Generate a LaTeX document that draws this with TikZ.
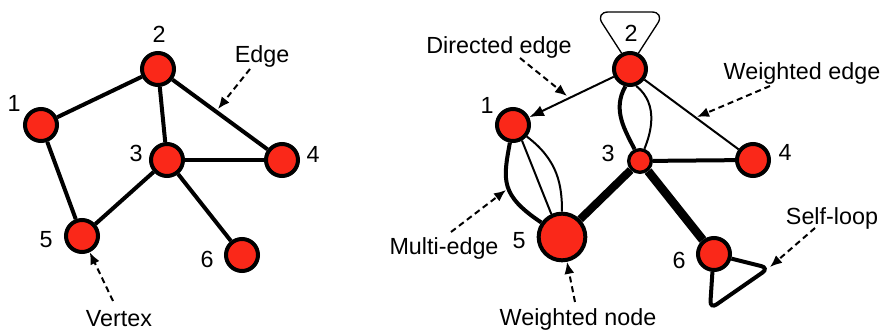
\documentclass[tikz,border=0pt]{standalone}
\usepackage{fontspec}
\setmainfont{Liberation Sans}
\usepackage{tikz}
\usetikzlibrary{arrows.meta}
\definecolor{myred}{RGB}{250, 40, 25}
\tikzset{every picture/.style={line width=0.75pt}}
\tikzset{
  vtx/.style={circle, draw, line width=3pt, fill=myred, minimum size=24pt, inner sep=0pt},
  lbl/.style={inner sep=0pt, font=\fontsize{17.5}{20}\selectfont},
  callout/.style={dash pattern=on 4.5pt off 3pt, line width=1.5pt, -{Latex[length=9pt,width=7.5pt]}},
  thinedge/.style={line width=1.5pt},
  edge/.style={line width=3pt}
}

\begin{document}
\begin{tikzpicture}[x=0.75pt,y=0.75pt,yscale=-1]
\useasboundingbox (0,0) rectangle (883,331);

%%% Left graph
% Vertices
\node [vtx] (a1) at (41,125) {};
\node [vtx] (a2) at (158,69) {};
\node [vtx] (a3) at (167,160) {};
\node [vtx] (a4) at (282,160) {};
\node [vtx] (a5) at (82,236) {};
\node [vtx] (a6) at (242,255) {};
% Edges
\draw [edge] (a1) -- (a2);
\draw [edge] (a1) -- (a5);
\draw [edge] (a2) -- (a3);
\draw [edge] (a2) -- (a4);
\draw [edge] (a3) -- (a4);
\draw [edge] (a3) -- (a5);
\draw [edge] (a3) -- (a6);
% Text Node
\node [lbl] (la1) at (14,103) {1};
\node [lbl] (la2) at (159,34) {2};
\node [lbl] (la3) at (136,153) {3};
\node [lbl] (la4) at (313,154) {4};
\node [lbl] (la5) at (46,240) {5};
\node [lbl] (la6) at (207,259) {6};
\node [lbl] (tedge) at (262,56) {Edge};
\node [lbl] (tvertex) at (119,319) {Vertex};
% Callouts
\coordinate (cedge0) at (250,69);
\coordinate (cedge1) at (218,109);
\coordinate (cvertex0) at (113,301);
\draw [callout] (cedge0) -- (cedge1);
\draw [callout] (cvertex0) -- (a5);

%%% Right graph
% Vertices
\node [vtx] (b1) at (513,125) {};
\node [vtx] (b2) at (630,69) {};
\node [vtx, minimum size=17pt, line width=2.5pt] (b3) at (640,161) {};
\node [vtx] (b4) at (753,160) {};
\node [vtx, minimum size=35pt] (b5) at (562,237) {};
\node [vtx] (b6) at (714,254) {};
% Edges
\draw [thinedge, -{Latex[length=11pt,width=8.5pt]}] (b2) -- (b1);
\draw [thinedge] (b2) -- (b4);
\draw [edge] (b3) -- (b4);
\draw [line width=6pt] (b3) -- (b5);
\draw [line width=6.5pt] (b3) -- (b6);
% multi-edge 2-3
\draw [edge] (b2.-105) .. controls (612,110) and (625,130) .. (b3.115);
\draw [thinedge] (b2.-70) .. controls (660,105) and (650,135) .. (b3.70);
% multi-edge 1-5
\draw [edge] (b1.-100) .. controls (503,180) and (500,195) .. (b5.145);
\draw [thinedge] (b1.-60) -- (b5.115);
\draw [thinedge] (b1.-40) .. controls (558,160) and (562,185) .. (b5.90);
% self-loops
\draw [line width=1pt, rounded corners=10pt] (b2.118) -- (595,12) -- (665,12) -- (b2.62);
\draw [edge, rounded corners=6pt] (b6.-15) -- (769,268) -- (710,309) -- (b6.-95);
% Text Node
\node [lbl] (lb1) at (487,105) {1};
\node [lbl] (lb2) at (631,33) {2};
\node [lbl] (lb3) at (608,153) {3};
\node [lbl] (lb4) at (785,152) {4};
\node [lbl] (lb5) at (519,241) {5};
\node [lbl] (lb6) at (679,260) {6};
\node [lbl] (tdirected) at (499,47) {Directed edge};
\node [lbl] (tweighted) at (802,73) {Weighted edge};
\node [lbl] (tmulti) at (444,248) {Multi-edge};
\node [lbl] (twnode) at (578,319) {Weighted node};
\node [lbl] (tloop) at (832,218) {Self-loop};
% Callouts
\coordinate (cdir0) at (520,58);
\coordinate (cdir1) at (567,96);
\coordinate (cweight0) at (770,86);
\coordinate (cweight1) at (697,117);
\coordinate (cmulti0) at (451,232);
\coordinate (cmulti1) at (506,190);
\coordinate (cwnode0) at (575,302);
\coordinate (cloop0) at (815,228);
\coordinate (cloop1) at (770,267);
\draw [callout] (cdir0) -- (cdir1);
\draw [callout] (cweight0) -- (cweight1);
\draw [callout] (cmulti0) -- (cmulti1);
\draw [callout] (cwnode0) -- (b5);
\draw [callout] (cloop0) -- (cloop1);

\end{tikzpicture}
\end{document}
